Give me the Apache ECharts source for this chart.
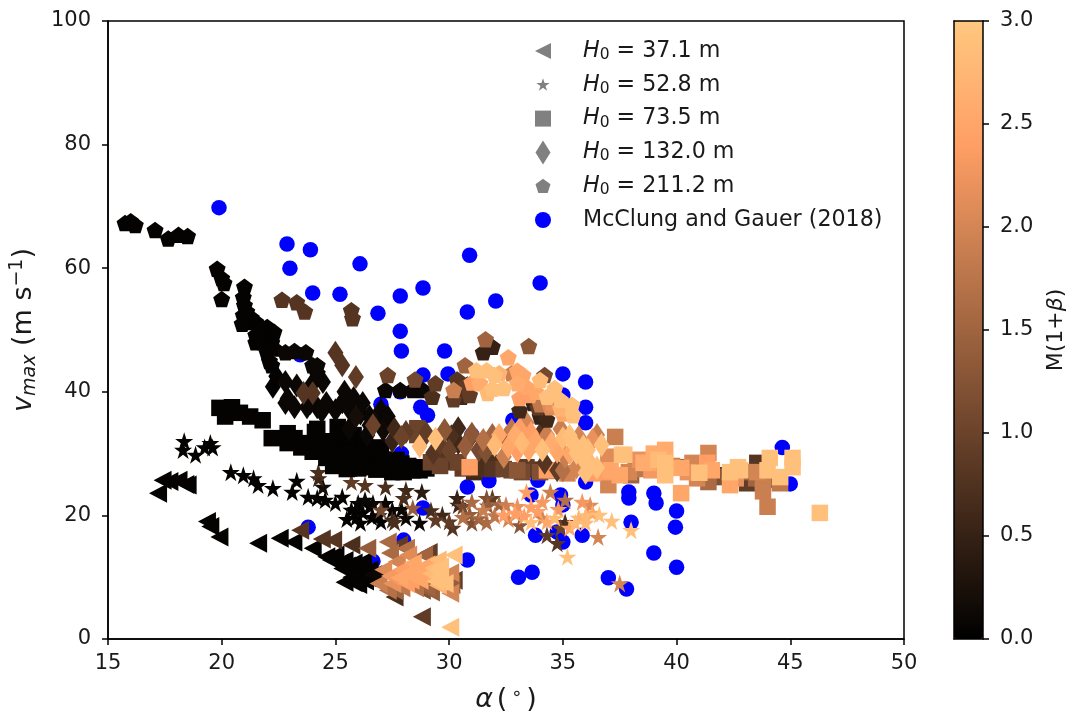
<!DOCTYPE html>
<html><head><meta charset="utf-8">
<style>html,body{margin:0;padding:0;background:#fff}#c{width:1068px;height:711px}</style>
<script src="https://cdn.jsdelivr.net/npm/echarts@6/dist/echarts.min.js"></script></head>
<body><div id="c"></div>
<script>
const xTicks = {min:15,max:50,step:5};
const yTicks = {min:0,max:100,step:20};
const cTicks = {min:0,max:3,step:0.5};
// [alpha, vmax, M(1+beta)]
const triangles = [
[17.4,25.7,.05],[18.1,25.7,.05],[18.5,24.9,.05],[17.2,23.6,.05],[17.7,25.5,.05],[18.4,25,.05],[19.35,19,.05],[19.5,18.2,.05],[19.9,16.5,.05],
[21.6,15.5,.05],[22.55,16.3,.05],[23.15,15.7,.05],[23.45,17.6,.8],[24.4,16.2,.8],[24.9,16,.8],[25.7,15.2,.7],[26.4,14.7,1.4],[27.3,15.7,1.6],
[24,14.7,.05],[24.6,13.3,.05],[25.2,12.3,.05],[25.8,12.3,.05],[26.2,12.5,.05],[25.9,10.7,.05],[25.4,9.2,.05],[26.1,10.4,.05],[26.65,10.4,.1],[25.8,9.1,.05],[25.5,11.8,.05],
[24.8,12.8,.05],[25,13.6,.05],[25.4,12.7,.05],[25.3,11.4,.05],[26,12,.05],[26.5,11.2,.05],[26.2,11.5,.05],[25.7,10,.05],[26.3,9.4,.05],[26,8.8,.05],[26.4,9.9,.05],[26.8,9.6,.05],
[27.8,15.2,.9],[28.1,14.7,1.7],[29.1,14,.9],[30.2,13.6,2.9],[29.5,12.8,2.8],[28.4,12.3,2.5],[27.7,12.5,2],[27.1,11.2,2.1],[27.5,9,2.2],[28.3,9.5,2.4],[28.9,10.7,2.4],
[29.5,10,2.9],[29.5,8.7,2.7],[30.05,10.7,2],[30.05,7.4,2],[30.2,9.5,.9],[27.6,6.8,.7],[27.3,7.9,1.7],[28.8,3.6,.9],[30.05,1.9,2.9],[28.8,7.9,1.2],[27.9,10.5,1.4],[29.6,11.7,2.9],
[27.4,10.2,2.3],[27.9,11.2,2.4],[28.1,9,2.4],[28.4,11,2.5],[28.7,9.5,2.5],[29,12,2.5],[29.3,11.5,2.8],[29.6,10.8,2.9],[29.8,9,2.9],[29.4,9.3,2.9],[27.9,8.3,1.8],[28.5,8.3,1.7],[29,8.4,1.5],[27.6,7.8,1.5],[26.9,9,1.9],[28.9,13.6,1.5],[27.4,13.9,1.6],[28.2,13.6,2.1],[30.1,8.8,1.4],[29.2,7.6,1.4],
[28.3,10.2,2.5],[28.8,11,2.5],[27.8,9.9,2.5],[29.2,10.6,2.8],[29.5,11.2,2.9]];
const stars = [
[18.35,32,.05],[18.3,30.6,.05],[18.85,29.8,.05],[19.5,31.7,.05],[19.25,31,.05],[19.6,31,.05],[20.4,27,.05],[20.95,26.5,.05],[21.4,26,.05],[21.6,24.9,.05],[22.25,24.4,.05],[23.3,25.6,.05],[23.1,23.8,.05],
[24.25,27,.7],[24.25,26,.6],[24.45,24.6,.2],[23.8,23,.05],[24.2,22.8,.05],[24.55,22.5,.05],[25,22,.05],[25.3,23,.05],[25.7,25.4,.9],[26.3,24.9,.8],[27.2,24.6,.7],[26.3,22.5,.1],[25.7,20.9,.05],[25.9,19.6,.05],[26.6,19.7,.05],[27,20.9,1.1],[27.5,20.9,.1],[27.6,18.9,.7],[26.65,22,.1],
[25.9,21,.05],[26,22,.05],[26.2,20.5,.05],[25.5,19.4,.05],[26.9,20,.05],[27.2,22,.1],[27,19,.05],[26.1,18.8,.05],[27.9,21,.1],
[28.8,23.8,.4],[28.1,24.1,.6],[28,22.8,.7],[26.5,21.5,.05],[28.1,19.6,.1],[28.7,18.8,.1],[28.4,21.2,1.4],[29.4,19.3,.9],[29.7,20.1,.6],[27.5,19.3,.6],[30.35,22.8,.5],[30.4,21.7,.6],[30.15,18,.8],
[29.2,20.8,.7],[30,19,.9],[30.6,21.5,1.1],[31.3,19.5,1.5],[32,20,1.8],[32.2,21.8,1.5],[32.6,19.4,2],[33.3,19.9,2.4],[33,21.5,2.2],[33.9,20.7,2.4],[34.8,21,2.3],[31.7,21.6,1.4],[30.9,20.2,1.4],[34.3,19,2.5],[35.7,19.6,2.7],[36,20,2.8],[34.9,18,1],
[30.6,19.7,1.7],[31,22.2,1.6],[31,18.8,1.2],[31.65,22.8,1.2],[31.9,22.8,.9],[31.5,20.9,1.9],[31.65,18.9,1.6],[32.5,21.7,1.9],[32.9,20.4,2.4],[32.4,20.1,2.4],[33.1,18.4,1.3],[33.4,23.8,2.4],[33.6,21.4,2.4],[33.6,18.9,2.9],[34.1,22.2,2.3],[34.45,23.8,1.9],[35.1,22.5,1.7],[34.65,19.6,2.8],[34.1,19.6,2],[34.3,16.8,.9],[34.75,15.5,.8],[35.1,18.9,.7],[35.85,22.2,2.3],[36.2,21.7,2.1],[35.55,18.8,2.8],[35.3,18,2.5],[36,18.8,2.8],[36.3,20.4,2.5],[36.6,20.1,2.9],[36.55,16.5,2],[37.15,19.1,2.9],[38,17.6,2.9],[35.2,13.3,2.9],[37.5,9,2]];
const squares = [
[19.9,37.4,.05],[20.45,37.5,.05],[20.15,36,.05],[20.8,36.6,.05],[21.25,36,.05],[21.8,35.4,.05],[22.2,32.5,.05],[22.9,33.3,.05],[22.9,31.7,.05],[24.1,33.5,.05],[23.75,31.7,.05],[24,30.3,.05],[25.1,30.9,.05],[25.1,34.3,.05],[25.3,28.5,.05],[25.9,28.5,.05],[26.5,29,.05],[27.1,28.2,.05],[24.6,29.3,.05],[25.8,33,.05],[26.4,27.8,.05],[25.6,27.6,.05],[24.9,28,.05],
[25.2,29,.05],[25.6,28.6,.05],[26,28.8,.05],[26.4,29,.05],[26.8,28.6,.05],[27.4,28.5,.05],[27.9,28.4,.05],[28.2,28,.05],[28.6,27.8,.05],[29,27.6,.05],[25.5,27.5,.05],[26,27.6,.05],[26.8,27.4,.05],[27.5,27,.05],[28,27,.05],[25.6,31,.05],[26,30.5,.05],[25,32,.05],[25.5,33,.05],[24.4,32,.05],[24.6,31,.05],[23.2,32.5,.05],[23.5,31,.05],[24.2,34,.05],[26.3,31.5,.05],[27,31,.05],[25,30,.05],[25.5,30,.05],[26.5,30,.05],
[27.1,29,.05],[27.7,29,.05],[27.1,27.7,.05],[27.85,27.7,.05],[28.4,27.3,.05],[28.7,27.3,.05],[28.6,34.1,1],[28.6,33,1],[29.4,29,.8],[29.2,28.6,1],[30.4,28.6,1],[30.9,27.8,2.4],[31.1,27,.6],[31.7,28.5,.7],[32.1,28.5,.7],[32.75,27.3,1],[33,27.3,1.3],[33.4,27.8,.9],[34.3,27.3,2.4],[37.3,32.7,1.9],[37.6,29.8,2.9],[37,29.5,2.1],[37.1,27.3,2.5],[37.9,27,2],[38.4,29,2.2],[38.55,28.5,2.6],[37,24.9,2],
[29.6,28,1],[30,28.6,.8],[30.6,27.6,.9],[31.3,27.6,.7],[31.9,27.5,.8],[32.4,27.5,1],[33.2,27,1.1],[33.7,27.4,.8],[34,27,1.2],[34.7,27.2,1.6],[35.2,26.8,2],[36.3,26.8,2.4],[36.8,27,2.4],[37.5,26.5,2.5],[38,26.5,1.5],
[38.2,27.5,1.8],[38.9,27.3,2.3],[39.2,29,2.8],[39.8,28,1.9],[40,27.8,.9],[40.5,27,2.2],[40.9,26,2],[41.2,26.4,.9],[41.7,26.5,.7],[42,26.2,1.2],[42.6,26,2.2],[43,26.4,.5],[43.3,27,1.5],[43.5,26,1.5],[44,25.8,1],[42.7,27.8,2.9],[39,30,2.6],
[39.5,30.6,2.6],[39.5,28.5,2.9],[39.5,26.5,2.9],[38.75,28.5,2.5],[38.6,28.8,.8],[40.2,27.7,2.5],[40.7,28.5,2],[41,26.9,2.9],[41.4,30.1,2],[41.35,28.5,2.4],[41.55,27.3,2.5],[41.4,25.4,1.6],[40.2,23.6,2.5],[42.35,27,2.9],[42.8,27.3,2.9],[42.35,24.9,2.5],[43.1,25.2,.9],[43.55,27,2],[43.8,25.4,1.9],[43.8,23.9,1.9],[44,21.4,1.9],[44.1,29.3,2.9],[44,27.3,2.9],[44.55,26.2,2.9],[44.55,25.2,1.8],[45.1,29.3,2.9],[45.1,27.8,2.9],[46.3,20.4,2.9],[37.7,29.8,2.9],[38.3,28.5,1.1],[43.55,28.5,.8]];
const diamonds = [
[25,46.3,.8],[25.3,44.3,.8],[25.9,42.4,.9],[22.8,41.6,.1],[22.25,40.8,.05],[23.6,39.8,.8],[24,39.8,.8],[24,41.4,.1],[24.45,41.6,.1],[24.6,38.2,.1],[23.75,37.5,.1],[24.2,37.5,.1],[23.2,37.5,.1],[22.8,38.2,.1],[25.3,38.3,.1],[25.8,39,.1],[26.2,38.2,.1],[27,37,.1],[26.65,34.6,1],[25.9,36,.2],[27.1,33.8,.15],[25.6,34,.1],[26.4,33,.1],
[22.4,42.5,.05],[22.9,38.9,.1],[23.3,41,.1],[23.9,38.2,.1],[24.4,36.8,.1],[25,37,.1],[25.6,37.2,.1],[26.1,36.5,.1],[26.5,36,.1],[27,35,.1],[25.4,40,.1],[26.5,34.6,.1],[27.3,36,.1],[27.5,32,.5],[28.1,33.5,.9],[27.6,34,.6],
[32.2,33,2.5],[32.9,33,2.6],[33.1,34,2.4],[33.8,32,2.5],[34.5,31.7,2.6],[33,30.4,2.4],[32.5,32.5,1.3],[33.2,33,1.2],[34.1,33.6,.8],[34.9,34,1.9],[35.3,32.9,2.9],[35.5,31.5,2.9],[35.9,31.2,2.9],[36.5,33,1.9],[36.1,29,2.8],[35.1,29.5,1.9],[30,30.5,1],[31,33.2,1.3],[30.9,32.4,.9],[31.3,30.6,1.1],[29.6,31.6,.9],[30.1,32.8,.7],[36,28.5,2.9],
[27.9,32.7,1],[28.7,31.2,2.8],[29.4,32.4,2.9],[29,33.3,.9],[29.3,30.1,.8],[29.8,33.8,1.3],[30.4,34.1,.6],[30.7,31.1,1.4],[30.4,31.7,.6],[31.5,32.2,1.7],[31.9,33,1.5],[32,31.4,2.8],[31.6,30.3,1.2],[32.75,33.8,1.8],[32.6,31.1,2.5],[33.2,31.7,2.8],[33.4,35,2],[33.6,33.3,2.4],[33.5,30.6,2.5],[34.1,30.6,2.9],[34.3,33,1.9],[35,32.5,2.8],[34.75,30.3,2.5],[35.3,30.1,2.5],[35.6,30.1,2.9],[35.7,32.7,2],[36.1,30.6,2.9],[36.3,32.2,2.2],[36.7,31.4,2.9],[36,26.9,2.9],[36.5,27.7,2.9],[35,27.3,1.7],[34.75,27.3,.9],[35.6,27.8,2],[32.4,29.5,1.9],[34.2,28.5,.8]];
const pentagons = [
[15.75,67.3,.05],[16,67.6,.05],[16.2,67,.05],[17.07,66.2,.05],[17.65,64.8,.05],[18.1,65.4,.05],[18.5,65.2,.05],[19.8,59.9,.05],[20,58.4,.05],[20.1,57.6,.05],[20,55,.05],[21,57,.05],[20.95,55.3,.05],[21,54,.05],[20.95,52.4,.05],[21.1,51.3,.05],[21.5,51.3,.05],[22,50.5,.05],[22.3,49.7,.05],[21.5,49.2,.05],[22,48.7,.05],[22,46.3,.05],[22.2,44.3,.05],
[21.3,52,.05],[21.7,50.2,.05],[21.5,48,.05],[22.2,48,.05],[21.1,53,.05],[21.8,48,.05],[22.1,45,.05],[22.3,47,.05],[24.2,43,.1],[20.9,51,.05],
[22.65,54.9,.8],[23.3,54.5,.8],[23.65,53,.8],[25.7,53.2,.8],[25.75,51.9,.8],[22.8,46.4,.1],[23.2,46.6,.1],[23.7,46.4,.1],[24,44.3,.1],[24.2,44.3,.1],[27.3,42.7,1],[27.2,40.3,.1],[27.85,40.3,.1],[28.4,40.3,.1],[28.85,40.3,.1],[28.5,42,1.1],[29.4,41.4,.9],[29.25,39.2,.7],[30.2,40.3,1.9],[30.35,42,.8],[30.55,39.2,.6],[30.7,44.3,1.5],[31.6,48.5,1.5],[31.5,46.4,.5],[31.9,47.3,.5],[33.5,47.4,1.3],[32.6,45.6,2.5],[33.9,37.5,.9],[34,36,.5],[33.1,37,.6],[30.9,39.5,.9],[32.75,43,1.9],[34.2,42.7,1.1],[34.45,37.5,2.1],
[30.5,40.9,.7],[30.2,38.8,.9],[30.8,41.2,.9],[33.7,38.2,.5],[34.3,35.5,.6],[34,38,1.8],[34.5,38.2,2.2],
[31.2,43.5,2.9],[31.65,43.5,2.9],[32,42.7,2.9],[31.35,41.4,2.6],[31.7,39.8,2.8],[32.4,40.6,2.9],[33.25,42.7,2.5],[33,41.4,2.6],[33.4,40.8,2.5],[33.1,39,2.4],[33.55,39.5,2.4],[34,41.9,2.8],[34.3,39.2,2.9],[34.65,40.6,2.9],[34.9,38.7,2.9],[35.4,37.9,2.9],[35.45,36.2,2.9],
[32.2,43,2.7],[31,41.5,2.4],[33.8,40,2.5],[33,43.4,2.5],[31.9,40.5,2.9],[34.9,37.3,2.7],[35,36.5,2.5]];
const mcclung = [
[19.88,69.8],[22.87,63.9],[23.9,63],[23,60],[26.08,60.7],[24,56],[25.2,55.8],[30.9,62.1],[32.05,54.7],[34,57.6],[26.87,52.7],[27.85,55.5],[28.85,56.8],[30.8,52.9],[27.85,49.8],[27.9,46.6],[29.8,46.6],[28.85,42.7],[29.95,42.9],[35,42.9],[36,41.6],[36,37.5],[36,35],[27,38],[27.85,40],[28.75,37.5],[29.05,36.2],[23.45,46],[27.9,30],[28.85,21.2],[23.8,18.1],[28,16],[26.65,12.6],[30.8,12.8],[33.05,10],[33.65,10.8],[37,9.9],[37.8,8.1],[39,13.9],[33.8,16.8],[35.85,16.8],[35,15.7],[34.75,17.3],[38,18.9],[37.9,23.8],[37.9,22.8],[39,23.6],[39.1,22],[30.8,24.6],[31.75,25.6],[33.6,23.3],[34.9,23.3],[35,21.7],[33.9,25.7],[36,25.4],[40,11.6],[39.95,18.1],[40,20.7],[44.65,31],[45,25.1],[32.8,35.4],[31,33],[35,39.5]];
const legendNames = ['37.1','52.8','73.5','132.0','211.2'];
const colorStops = ['#000000','#402819','#805033','#bf784c','#ff9f65','#ffc77f'];

const TRI='M0 50L100 0L100 100Z';
const STAR='M50 0L61.8 36.3L100 36.3L69.1 58.8L80.9 95.1L50 72.6L19.1 95.1L30.9 58.8L0 36.3L38.2 36.3Z';
const PENT='M50 0L100 36.3L80.9 95.1L19.1 95.1L0 36.3Z';
const SQ='M0 0L100 0L100 100L0 100Z';
const DIA='M50 0L100 80L50 160L0 80Z';
const pad=(p,lo,hi)=>'path://'+p+`M${lo} ${lo}L${lo} ${lo}M${hi} ${hi}L${hi} ${hi}`;
const CIRC='M50 0A50 50 0 1 1 49.9 0Z';
const font='DejaVu Sans', ink='#1a1a1a';
const byC=a=>a.slice().sort((p,q)=>p[2]-q[2]);
const label=n=>`H0 = ${n} m`;
const axisBase={axisLine:{show:true,onZero:false,lineStyle:{color:'#000',width:1.5}},axisTick:{show:true,length:6,lineStyle:{color:'#000',width:1.5}},axisLabel:{color:ink,fontFamily:font,fontSize:21,margin:17},splitLine:{show:false},z:5};
const bare={axisLine:{show:true,onZero:false,lineStyle:{color:'#000',width:1.5}},axisTick:{show:false},axisLabel:{show:false},splitLine:{show:false},z:5};
const rich={i:{fontFamily:font,fontStyle:'italic',fontSize:22.2,color:ink,lineHeight:24},s:{fontFamily:font,fontSize:15.5,color:ink,verticalAlign:'bottom',lineHeight:24},n:{fontFamily:font,fontSize:22.2,color:ink,lineHeight:24}};
const mkScatter=(name,sym,size,data)=>({name,type:'scatter',symbol:'path://'+sym,symbolSize:size,data:byC(data),xAxisIndex:0,yAxisIndex:0,itemStyle:{opacity:1},silent:true});

const chart=echarts.init(document.getElementById('c'),null,{renderer:'canvas'});
chart.setOption({
 animation:false,backgroundColor:'#fff',textStyle:{fontFamily:font},
 grid:[{left:108,top:21,width:796,height:618,show:true,borderColor:'#000',borderWidth:1.5,backgroundColor:'#fff',outerBoundsMode:'none'},{left:954,top:21,width:29,height:618,show:false,outerBoundsMode:'none'}],
 xAxis:[
  {...axisBase,axisLabel:{...axisBase.axisLabel,margin:14},type:'value',gridIndex:0,min:xTicks.min,max:xTicks.max,interval:xTicks.step,name:'{i|α} {n|(} {u|∘} {n|)}',nameLocation:'middle',nameGap:46,
   nameTextStyle:{rich:{i:{fontFamily:font,fontStyle:'italic',fontSize:27,color:ink},n:{fontFamily:font,fontSize:27,color:ink},u:{fontFamily:font,fontSize:18,color:ink,verticalAlign:'top',lineHeight:30}}}},
  {...bare,type:'value',gridIndex:1,min:0,max:1,position:'bottom'},
  {...bare,type:'value',gridIndex:1,min:0,max:1,position:'top'}],
 yAxis:[
  {...axisBase,type:'value',gridIndex:0,min:yTicks.min,max:yTicks.max,interval:yTicks.step,name:'{i|v}{s|max}{n| (m s}{u|−1}{n|)}',nameLocation:'middle',nameGap:67,nameRotate:90,
   nameTextStyle:{rich:{i:{fontFamily:font,fontStyle:'italic',fontSize:27,color:ink},s:{fontFamily:font,fontStyle:'italic',fontSize:19,color:ink,verticalAlign:'bottom',lineHeight:32},n:{fontFamily:font,fontSize:27,color:ink},u:{fontFamily:font,fontSize:19,color:ink,verticalAlign:'top',lineHeight:32}}}},
  {...axisBase,type:'value',gridIndex:1,min:cTicks.min,max:cTicks.max,interval:cTicks.step,position:'right',name:'{n|M(1+}{i|β}{n|)}',nameLocation:'middle',nameGap:62,nameRotate:90,
   axisLabel:{...axisBase.axisLabel,formatter:v=>v.toFixed(1)},
   nameTextStyle:{rich:{n:{fontFamily:font,fontSize:22,color:ink},i:{fontFamily:font,fontStyle:'italic',fontSize:22,color:ink}}}},
  {...bare,type:'value',gridIndex:1,min:0,max:3,position:'left'}],
 visualMap:{type:'continuous',min:0,max:3,dimension:2,seriesIndex:[1,2,3,4,5],inRange:{color:colorStops},calculable:false,realtime:false,show:true,left:954,top:21,itemWidth:29,itemHeight:618,text:null,showLabel:false,padding:0,orient:'vertical',z:1,textStyle:{fontSize:0,color:'transparent'}},
 legend:{show:true,orient:'vertical',left:531,top:39,padding:0,itemWidth:70,itemHeight:24,itemGap:9.8,selectedMode:false,
  data:[
   {name:label(legendNames[0]),icon:pad(TRI,-25,125),itemStyle:{color:'#808080'}},
   {name:label(legendNames[1]),icon:pad(STAR,-40,140),itemStyle:{color:'#808080'}},
   {name:label(legendNames[2]),icon:pad(SQ,-25,125),itemStyle:{color:'#808080'}},
   {name:label(legendNames[3]),icon:'path://'+DIA,itemStyle:{color:'#808080'}},
   {name:label(legendNames[4]),icon:pad(PENT,-30,130),itemStyle:{color:'#808080'}},
   {name:'McClung and Gauer (2018)',icon:pad(CIRC,-25,125),itemStyle:{color:'#0000ff'}}],
  formatter:n=>n.startsWith('H0')?`{i|H}{s|0}{n|${n.slice(2)}}`:`{n|${n}}`,
  textStyle:{rich}},
 series:[
  {name:'McClung and Gauer (2018)',type:'scatter',symbol:'circle',symbolSize:15.5,data:mcclung,xAxisIndex:0,yAxisIndex:0,itemStyle:{color:'#0000ff',opacity:1},silent:true},
  mkScatter(label(legendNames[0]),TRI,[18,19],triangles),
  mkScatter(label(legendNames[1]),STAR,[18,18],stars),
  mkScatter(label(legendNames[2]),SQ,[16.5,16.5],squares),
  mkScatter(label(legendNames[3]),DIA,[16,24],diamonds),
  mkScatter(label(legendNames[4]),PENT,[17,16.5],pentagons)]
});
</script></body></html>
